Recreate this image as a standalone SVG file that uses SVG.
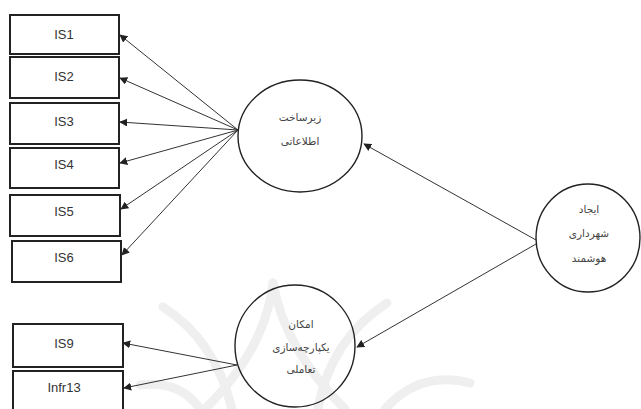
<svg xmlns="http://www.w3.org/2000/svg" width="641" height="409" viewBox="0 0 641 409">
<style>
.box{fill:#fff;stroke:#222;stroke-width:2}
.lbl{font-family:"Liberation Sans",Arial,sans-serif;font-size:13px;fill:#333;text-anchor:middle}
.fa{font-family:"DejaVu Sans","Noto Sans",sans-serif;font-size:10.5px;fill:#444;text-anchor:middle}
.node{fill:none;stroke:#222;stroke-width:1.4}
.edge{stroke:#333;stroke-width:1;fill:none;marker-end:url(#ah)}
.wm{fill:none;stroke:#efefef;stroke-width:9;stroke-linecap:round}
</style>
<defs>
<marker id="ah" viewBox="0 0 10 10" refX="9" refY="5" markerWidth="8" markerHeight="8" orient="auto" markerUnits="userSpaceOnUse">
<path d="M0,0 L10,5 L0,10 z" fill="#222"/>
</marker>
</defs>
<rect width="641" height="409" fill="#fff"/>
<g id="watermark">
<path class="wm" d="M163,307 Q215,340 232,409"/>
<path class="wm" d="M273,283 Q265,350 205,409"/>
<path class="wm" d="M273,283 Q285,350 345,409"/>
<path class="wm" d="M387,303 Q330,340 318,409"/>
<path class="wm" d="M470,383 Q420,370 385,409"/>
<path class="wm" d="M140,385 Q180,380 200,409"/>
</g>
<g id="connectors">
<line class="edge" x1="238" y1="130" x2="120" y2="35"/>
<line class="edge" x1="238" y1="130" x2="120" y2="78"/>
<line class="edge" x1="238" y1="130" x2="120" y2="122"/>
<line class="edge" x1="238" y1="130" x2="120" y2="163"/>
<line class="edge" x1="238" y1="130" x2="121" y2="209"/>
<line class="edge" x1="238" y1="130" x2="122" y2="255"/>
<line class="edge" x1="536" y1="240" x2="364" y2="144"/>
<line class="edge" x1="536" y1="244" x2="357" y2="347"/>
<line class="edge" x1="237" y1="365" x2="123" y2="343"/>
<line class="edge" x1="237" y1="365" x2="124" y2="388"/>
</g>
<g id="IS1"><rect class="box" x="10" y="15" width="109" height="39"/><text class="lbl" x="64" y="39">IS1</text></g>
<g id="IS2"><rect class="box" x="10" y="57" width="109" height="41"/><text class="lbl" x="64" y="81">IS2</text></g>
<g id="IS3"><rect class="box" x="10" y="103" width="109" height="41"/><text class="lbl" x="64" y="126">IS3</text></g>
<g id="IS4"><rect class="box" x="10" y="148" width="109" height="40"/><text class="lbl" x="64" y="169">IS4</text></g>
<g id="IS5"><rect class="box" x="10" y="195" width="110" height="41"/><text class="lbl" x="64" y="216">IS5</text></g>
<g id="IS6"><rect class="box" x="12" y="241" width="109" height="41"/><text class="lbl" x="64" y="262">IS6</text></g>
<g id="IS9"><rect class="box" x="13" y="324" width="110" height="43"/><text class="lbl" x="64" y="348">IS9</text></g>
<g id="Infr13"><rect class="box" x="13" y="371" width="110" height="45"/><text class="lbl" x="64" y="392">Infr13</text></g>
<g id="n-info">
<ellipse class="node" cx="300" cy="136" rx="62" ry="56"/>
<text class="fa" x="300" y="121">زیرساخت</text>
<text class="fa" x="300" y="145">اطلاعاتی</text>
</g>
<g id="n-integration">
<ellipse class="node" cx="295" cy="346" rx="60" ry="61"/>
<text class="fa" x="301" y="328">امکان</text>
<text class="fa" x="301" y="351">یکپارچه‌سازی</text>
<text class="fa" x="301" y="373">تعاملی</text>
</g>
<g id="n-smart">
<ellipse class="node" cx="588" cy="238" rx="52" ry="54"/>
<text class="fa" x="589" y="213">ایجاد</text>
<text class="fa" x="589" y="237">شهرداری</text>
<text class="fa" x="589" y="262">هوشمند</text>
</g>
</svg>
